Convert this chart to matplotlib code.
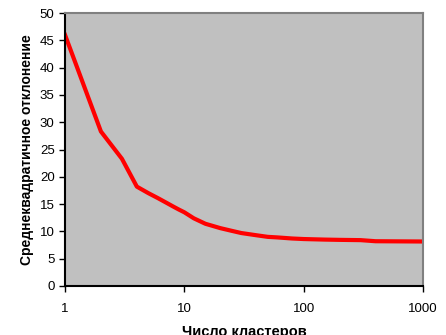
import numpy as np
import matplotlib
matplotlib.use('Agg')
import matplotlib.pyplot as plt
from matplotlib.ticker import FixedLocator, NullLocator

plt.rcParams['font.family'] = ['Liberation Sans', 'DejaVu Sans']

# число кластеров и среднеквадратичное отклонение
clusters = [1, 2, 3, 4, 5, 6, 7, 8, 9, 10, 12, 15, 20, 25, 30, 40, 50, 60, 80, 100, 150, 200, 300, 400, 1000]
stddev = [46.0, 28.3, 23.3, 18.2, 17.0, 16.1, 15.3, 14.6, 14.0, 13.5, 12.4, 11.4, 10.6, 10.1, 9.7, 9.3, 9.0, 8.9, 8.7, 8.6, 8.5, 8.45, 8.4, 8.2, 8.15]
yticks = [0, 5, 10, 15, 20, 25, 30, 35, 40, 45, 50]
xticks = [1, 10, 100, 1000]

fig = plt.figure(figsize=(4.46, 3.35), dpi=100)
ax = fig.add_axes([65/446, 1-286/335, 358/446, 273/335])
ax.set_facecolor('#c0c0c0')
ax.plot(clusters, stddev, color='#ff0000', lw=3)
ax.set_xscale('log')
ax.set_xlim(1, 1000)
ax.set_ylim(0, 50)
ax.xaxis.set_major_locator(FixedLocator(xticks))
ax.xaxis.set_minor_locator(NullLocator())
ax.set_xticklabels([str(t) for t in xticks])
ax.set_yticks(yticks)
ax.tick_params(labelsize=9.5, length=4, width=1, direction='out', color='black')
ax.tick_params(axis='x', pad=8)
for s in ['top', 'right']:
    ax.spines[s].set_color('#808080')
    ax.spines[s].set_linewidth(1.5)
for s in ['left', 'bottom']:
    ax.spines[s].set_color('black')
    ax.spines[s].set_linewidth(1.5)

ax.set_ylabel('Среднеквадратичное отклонение', fontsize=10, fontweight='bold', va='center')
ax.yaxis.set_label_coords(-0.106, 0.5)
ax.set_xlabel('Число кластеров', fontsize=10.5, fontweight='bold', va='center')
ax.xaxis.set_label_coords(0.5, -0.17)

fig.savefig('out.png', dpi=100)
